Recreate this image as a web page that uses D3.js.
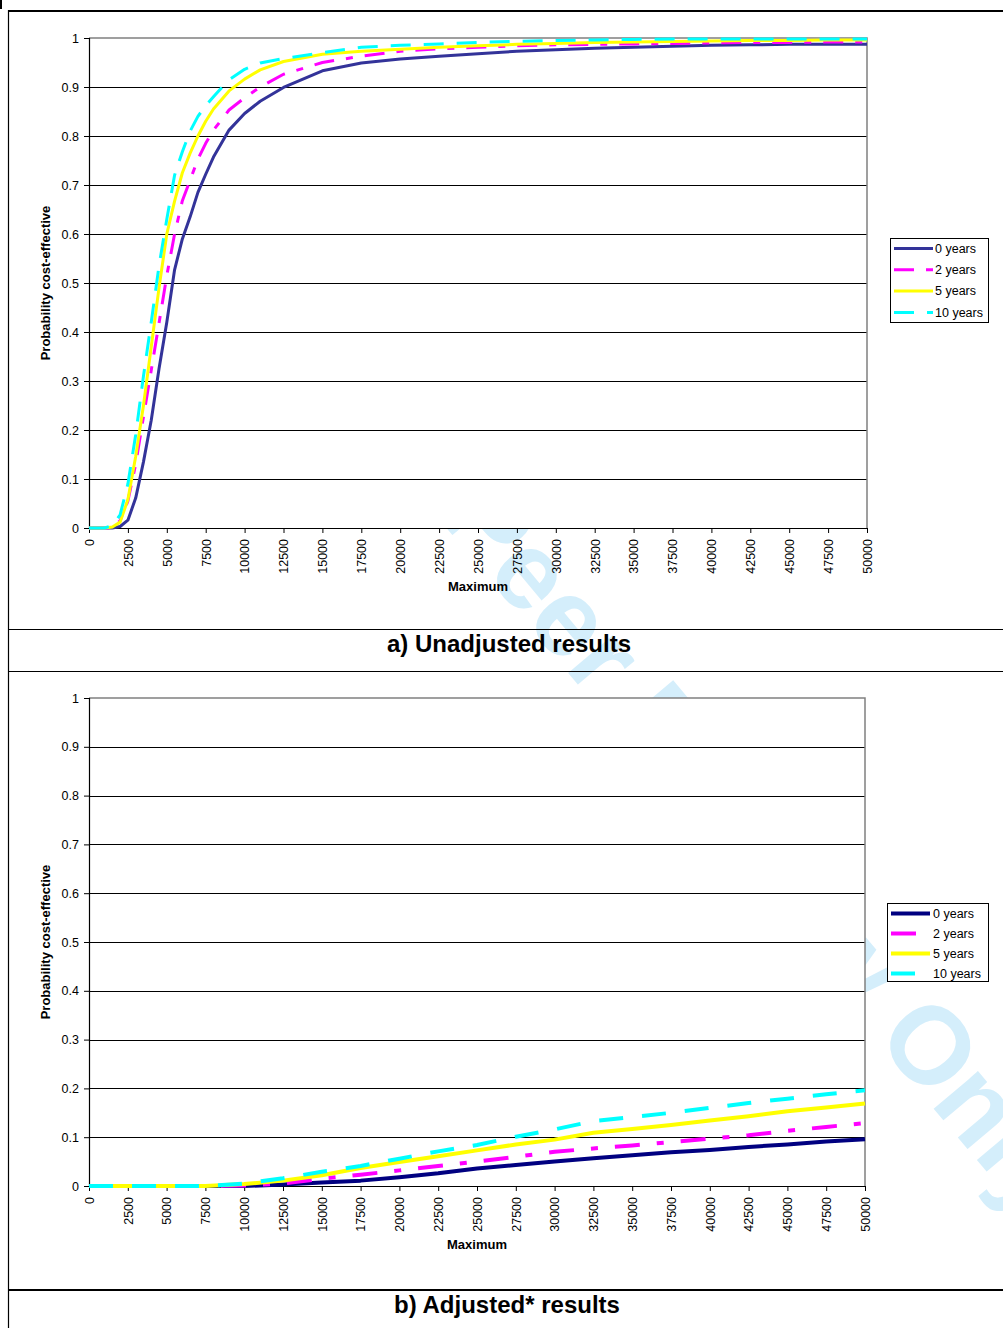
<!DOCTYPE html>
<html><head><meta charset="utf-8">
<script src="https://cdn.jsdelivr.net/npm/d3@7"></script>
<style>
body{margin:0;background:#fff}
svg{display:block}
text{font-family:"Liberation Sans",Arial,Helvetica,sans-serif}
</style>
</head><body>
<svg id="c" width="1003" height="1328"></svg>
<script>
// ---------- DATA ----------
const seriesNames = ["0 years", "2 years", "5 years", "10 years"];
const xTickValues = [0,2500,5000,7500,10000,12500,15000,17500,20000,22500,25000,27500,30000,32500,35000,37500,40000,42500,45000,47500,50000];
const yTickValues = [0,0.1,0.2,0.3,0.4,0.5,0.6,0.7,0.8,0.9,1];
const yTickLabels = ["0","0.1","0.2","0.3","0.4","0.5","0.6","0.7","0.8","0.9","1"];

// a) Unadjusted results
const topX   = [0,1000,1500,2000,2500,3000,3500,4000,4500,5000,5500,6000,6500,7000,7500,8000,9000,10000,11000,12500,15000,17500,20000,22500,25000,27500,30000,32500,35000,37500,40000,42500,45000,47500,50000];
const topY0  = [0,0,0,0.003,0.016,0.061,0.135,0.22,0.325,0.42,0.527,0.59,0.635,0.685,0.722,0.757,0.812,0.846,0.871,0.899,0.933,0.949,0.957,0.963,0.968,0.973,0.976,0.979,0.981,0.983,0.985,0.986,0.987,0.987,0.987];
const topY2  = [0,0,0,0.015,0.055,0.13,0.227,0.322,0.418,0.515,0.6,0.668,0.71,0.753,0.785,0.812,0.853,0.878,0.9,0.926,0.95,0.963,0.973,0.978,0.981,0.984,0.986,0.987,0.988,0.989,0.99,0.991,0.991,0.992,0.992];
const topY5  = [0,0,0.002,0.012,0.058,0.146,0.25,0.37,0.49,0.6,0.667,0.725,0.765,0.8,0.83,0.855,0.892,0.916,0.935,0.952,0.967,0.973,0.977,0.981,0.984,0.987,0.989,0.991,0.992,0.993,0.994,0.995,0.995,0.996,0.996];
const topY10 = [0,0,0.005,0.027,0.09,0.19,0.31,0.42,0.535,0.63,0.72,0.768,0.81,0.84,0.862,0.88,0.915,0.936,0.949,0.958,0.97,0.981,0.985,0.988,0.991,0.993,0.995,0.996,0.997,0.998,0.998,0.998,0.998,0.998,0.998];

// b) Adjusted* results
const botX   = [0,2500,5000,7500,10000,12500,15000,17500,20000,22500,25000,27500,30000,32500,35000,37500,40000,42500,45000,47500,50000];
const botY0  = [0,0,0,0,0,0.003,0.007,0.011,0.018,0.026,0.036,0.043,0.050,0.057,0.063,0.069,0.074,0.080,0.085,0.091,0.096];
const botY2  = [0,0,0,0,0.001,0.005,0.015,0.023,0.032,0.041,0.050,0.060,0.070,0.077,0.083,0.090,0.097,0.104,0.113,0.121,0.129];
const botY5  = [0,0,0,0,0.004,0.011,0.022,0.037,0.049,0.061,0.073,0.085,0.095,0.109,0.117,0.125,0.134,0.143,0.153,0.161,0.169];
const botY10 = [0,0,0,0,0.005,0.016,0.029,0.041,0.056,0.071,0.084,0.101,0.116,0.133,0.141,0.150,0.160,0.170,0.179,0.188,0.196];

const titleTop = "a) Unadjusted results";
const titleBot = "b) Adjusted* results";
const xAxisTitle = "Maximum";
const yAxisTitle = "Probability cost-effective";
const watermark = "For Peer Review Only";

// ---------- DRAW ----------
const svg = d3.select("#c");
svg.append("rect").attr("width",1003).attr("height",1328).attr("fill","#fff");

// watermark (behind plot areas)
svg.append("text")
  .attr("transform","translate(304,358) rotate(50)")
  .attr("font-size",110).attr("font-weight","bold")
  .attr("fill","#d4eefb")
  .text(watermark);

// page frame lines
svg.append("rect").attr("x",0).attr("y",0).attr("width",2).attr("height",9).attr("fill","#000");
svg.append("line").attr("x1",8).attr("x2",1003).attr("y1",11).attr("y2",11).attr("stroke","#000").attr("stroke-width",2);
svg.append("line").attr("x1",8.5).attr("x2",8.5).attr("y1",10).attr("y2",1328).attr("stroke","#000").attr("stroke-width",1.2);
svg.append("line").attr("x1",8).attr("x2",1003).attr("y1",629.5).attr("y2",629.5).attr("stroke","#000").attr("stroke-width",1);
svg.append("line").attr("x1",8).attr("x2",1003).attr("y1",671.5).attr("y2",671.5).attr("stroke","#000").attr("stroke-width",1.2);
svg.append("line").attr("x1",8).attr("x2",1003).attr("y1",1290).attr("y2",1290).attr("stroke","#000").attr("stroke-width",2);

svg.append("text").attr("x",509).attr("y",652).attr("text-anchor","middle")
  .attr("font-size",24).attr("font-weight","bold").text(titleTop);
svg.append("text").attr("x",507).attr("y",1313).attr("text-anchor","middle")
  .attr("font-size",24).attr("font-weight","bold").text(titleBot);

function drawChart(cfg){
  const g = svg.append("g");
  const x = d3.scaleLinear().domain([0,50000]).range([cfg.left,cfg.right]);
  const y = d3.scaleLinear().domain([0,1]).range([cfg.bottom,cfg.top]);

  // opaque plot area
  g.append("rect").attr("x",cfg.left).attr("y",cfg.top)
    .attr("width",cfg.right-cfg.left).attr("height",cfg.bottom-cfg.top).attr("fill","#fff");

  // gridlines
  g.append("g").selectAll("line").data(yTickValues.filter(v=>v>0 && v<1)).join("line")
    .attr("x1",cfg.left).attr("x2",cfg.right)
    .attr("y1",d=>Math.round(y(d))+0.5).attr("y2",d=>Math.round(y(d))+0.5)
    .attr("stroke","#000").attr("stroke-width",1);
  // frame top/right (grey)
  g.append("path")
    .attr("d",`M${cfg.left},${y(1)}H${cfg.right}V${cfg.bottom}`)
    .attr("fill","none").attr("stroke","#808080").attr("stroke-width",1.5);

  // axes
  const yAxis = d3.axisLeft(y).tickValues(yTickValues)
    .tickFormat((d,i)=>yTickLabels[i]).tickSize(5).tickPadding(5);
  const ya = g.append("g").attr("transform",`translate(${cfg.left},0)`).call(yAxis);
  ya.select(".domain").attr("stroke","#000").attr("stroke-width",1.2);
  ya.selectAll(".tick line").attr("stroke","#000");
  ya.selectAll("text").attr("font-size",12.5).attr("fill","#000")
    .attr("font-family","'Liberation Sans',Arial,sans-serif");

  const xAxis = d3.axisBottom(x).tickValues(xTickValues).tickFormat(d3.format("d")).tickSize(5).tickSizeOuter(0);
  const xa = g.append("g").attr("transform",`translate(0,${cfg.bottom})`).call(xAxis);
  xa.select(".domain").attr("stroke","#000").attr("stroke-width",1.2);
  xa.selectAll(".tick line").attr("stroke","#000");
  xa.selectAll("text").attr("font-size",12.5).attr("fill","#000")
    .attr("font-family","'Liberation Sans',Arial,sans-serif")
    .attr("transform","rotate(-90)")
    .attr("text-anchor","end")
    .attr("x",-11).attr("y",0).attr("dy","0.35em");

  // axis titles
  g.append("text").attr("x",(cfg.left+cfg.right)/2).attr("y",cfg.bottom+63)
    .attr("text-anchor","middle").attr("font-size",13).attr("font-weight","bold").text(xAxisTitle);
  g.append("text").attr("transform",`translate(50,${(cfg.top+cfg.bottom)/2}) rotate(-90)`)
    .attr("text-anchor","middle").attr("font-size",13).attr("font-weight","bold").text(yAxisTitle);

  // series
  const line = d3.line().x(d=>x(d[0])).y(d=>y(d[1]));
  cfg.series.forEach(s=>{
    g.append("path").datum(cfg.xs.map((v,i)=>[v,s.values[i]]))
      .attr("d",line).attr("fill","none")
      .attr("stroke",s.color).attr("stroke-width",cfg.lw)
      .attr("stroke-dasharray",s.dash||null)
      .attr("stroke-linejoin","round");
  });

  // legend
  const L = cfg.legend;
  g.append("rect").attr("x",L.x).attr("y",L.y).attr("width",L.w).attr("height",L.h)
    .attr("fill","#fff").attr("stroke","#000").attr("stroke-width",1);
  cfg.series.forEach((s,i)=>{
    const cy = L.y + L.first + i*L.step;
    g.append("line").attr("x1",L.sx1).attr("x2",L.sx2).attr("y1",cy).attr("y2",cy)
      .attr("stroke",s.color).attr("stroke-width",cfg.lw)
      .attr("stroke-dasharray",s.dash||null);
    g.append("text").attr("x",L.tx).attr("y",cy).attr("dy","0.35em")
      .attr("font-size",12.5).text(seriesNames[i]);
  });
}

drawChart({
  left:89, right:867, top:38, bottom:528, lw:3,
  xs: topX,
  series:[
    {values:topY0,  color:"#333399"},
    {values:topY2,  color:"#FF00FF", dash:"20,12,7,12"},
    {values:topY5,  color:"#FFFF00"},
    {values:topY10, color:"#00FFFF", dash:"20,13"}
  ],
  legend:{x:890.5,y:238.5,w:98,h:84,first:10,step:21.3,sx1:894,sx2:933,tx:935}
});

drawChart({
  left:89, right:865, top:698, bottom:1186, lw:4,
  xs: botX,
  series:[
    {values:botY0,  color:"#000080"},
    {values:botY2,  color:"#FF00FF", dash:"25,17,7,17"},
    {values:botY5,  color:"#FFFF00"},
    {values:botY10, color:"#00FFFF", dash:"24,19"}
  ],
  legend:{x:887.5,y:903.5,w:101,h:78,first:10,step:20,sx1:891,sx2:930,tx:933}
});
</script>
</body></html>
